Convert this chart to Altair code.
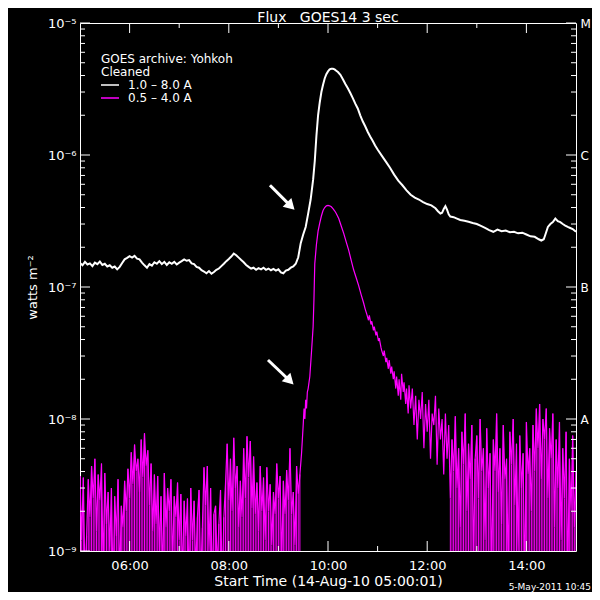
import altair as alt
import pandas as pd

FONT = "DejaVu Sans"
W, H = 496, 528

# ---------------- data ----------------
# GOES 1.0-8.0 A  (units of 1e-7 W m^-2), pre-flare sampled every 3 min from 05:00
w_base_vals = [1.52, 1.46, 1.55, 1.48, 1.51, 1.44, 1.53, 1.49, 1.56, 1.47,
               1.50, 1.43, 1.46, 1.40, 1.43, 1.36, 1.42, 1.52, 1.62, 1.66,
               1.71, 1.67, 1.72, 1.64, 1.62, 1.53, 1.46, 1.40, 1.49, 1.45,
               1.54, 1.50, 1.57, 1.49, 1.55, 1.47, 1.54, 1.50, 1.55, 1.48,
               1.53, 1.57, 1.62, 1.58, 1.60, 1.51, 1.49, 1.42, 1.40, 1.34,
               1.31, 1.27, 1.32, 1.26, 1.30, 1.35, 1.38, 1.44, 1.50, 1.57,
               1.63, 1.70, 1.79, 1.74, 1.67, 1.60, 1.54, 1.47, 1.42, 1.38,
               1.40, 1.35, 1.39, 1.36, 1.40, 1.35, 1.38, 1.34, 1.37, 1.33,
               1.36, 1.29, 1.27, 1.33, 1.35, 1.40, 1.43, 1.50, 1.68]
# flare and decay (minutes since 05:00, units of 1e-7)
w_flare_t = [267, 270, 273, 276, 279, 282, 284, 286, 288, 290, 292, 294, 296, 298,
             300, 302, 304, 306, 308, 310, 312, 315, 318, 321, 324, 327, 330, 333,
             336, 339, 342, 345, 348, 351, 354, 357, 360, 365, 370, 375, 380, 385,
             390, 395, 400, 405, 410, 415, 420, 425, 430, 433, 436, 438, 440, 442,
             444, 446, 448, 452, 456, 460, 465, 470, 475, 480, 485, 490, 495, 500,
             505, 510, 515, 520, 525, 530, 535, 540, 545, 550, 555, 558, 561, 563,
             566, 569, 572, 575, 578, 581, 584, 587, 590, 593, 596, 600]
w_flare_v = [2.15, 2.5, 2.85, 3.6, 4.6, 6.5, 9.0, 14, 20, 25, 30, 34, 38, 41,
             43, 44.5, 45, 45, 44.5, 43.5, 42.5, 40.5, 37.5, 34.5, 32, 29.5, 27, 24.5,
             22.5, 20, 18, 16.5, 15, 13.8, 12.8, 11.8, 11, 9.9, 8.9, 8.0, 7.1, 6.4,
             5.9, 5.4, 5.0, 4.75, 4.6, 4.4, 4.25, 4.15, 3.95, 3.75, 3.6, 3.65, 3.9, 4.1,
             3.85, 3.55, 3.42, 3.38, 3.3, 3.22, 3.18, 3.12, 3.05, 3.0, 2.9, 2.8, 2.7, 2.62,
             2.72, 2.65, 2.68, 2.6, 2.62, 2.55, 2.58, 2.5, 2.42, 2.4, 2.3, 2.25, 2.3, 2.5,
             2.85, 3.0, 3.1, 3.3, 3.15, 3.1, 3.0, 2.92, 2.85, 2.8, 2.75, 2.62]

# GOES 0.5-4.0 A (units of 1e-9 W m^-2), pre-flare every 2 min from 05:00
p_base_vals = [3.7, 1.2, 3.6, 0.6, 1.3, 3.5,
               1.8, 4.4, 2.5, 5.0, 1.4, 3.8, 2.4, 4.6, 0.7, 3.9, 1.6, 2.8, 1.0,
               3.0, 0.5, 2.6, 1.3, 3.5, 0.6, 2.2, 1.5, 3.4, 2.0,
               4.2, 2.5, 5.6, 3.2, 6.4, 4.0, 5.0, 2.8, 7.0, 3.6, 7.8, 4.4, 5.8, 2.2, 4.6, 1.4, 3.8,
               1.6, 3.7, 1.0, 2.6, 0.6, 3.9, 1.5, 3.0, 2.0, 3.5, 0.8, 2.6, 1.8, 3.3, 1.2, 2.7, 0.6, 2.4,
               1.3, 2.5, 0.5, 3.0, 1.2, 2.4, 0.7, 1.8, 2.9, 0.6, 1.5, 4.3, 2.2, 4.4, 1.0, 3.0, 0.5, 1.9,
               2.2, 0.7, 1.6, 2.9, 0.5, 1.8,
               3.2, 6.5, 2.4, 5.0, 2.0, 7.2, 3.0, 4.4, 1.5, 3.4, 1.8, 6.0, 2.5, 7.4, 3.6, 6.8, 2.1, 5.2,
               1.9, 3.3, 1.4, 4.4, 2.0, 3.6,
               1.2, 4.3, 2.0, 3.2, 1.1, 2.8, 1.9, 4.6, 2.5, 3.7, 0.8, 3.4, 1.9, 4.1, 2.4, 6.0, 1.9, 2.8,
               1.1, 4.4, 2.7, 3.8]
p_flare_t = [268, 270, 271, 272, 273, 274, 275, 276, 278, 280, 282, 283, 284, 286, 288, 290,
             292, 294, 296, 298, 300, 302, 304, 306, 308, 310, 313, 316, 319, 322, 325, 328,
             331, 334, 337, 340, 343, 345, 347, 349, 350, 352, 353, 355, 356, 358, 359, 361,
             362, 364, 365, 367, 368, 370, 371, 373, 374, 376, 377, 379, 380, 382, 383, 385,
             386, 388, 389, 391, 392, 394, 395, 397, 398]
p_flare_v = [5.5, 9.0, 12, 10, 14, 12, 16, 17, 21, 32, 50, 80, 150, 210, 265, 305,
             345, 380, 400, 412, 415, 412, 405, 392, 378, 360, 330, 290, 255, 220, 190, 160,
             135, 118, 103, 88, 76, 68, 62, 56, 61, 52, 55, 47, 50, 43, 46, 39,
             41, 35, 33, 30, 33, 27, 29, 24, 28, 22, 25, 20, 23, 17, 21, 15,
             20, 14, 22, 16, 19, 13, 17, 11, 18]
# post-flare every 2 min from 11:40
p_post_vals = [12, 17, 9, 15, 7, 14, 10, 16, 6, 13, 8, 14, 5, 11, 9, 15, 4.5, 12, 7, 10, 3.8, 11,
               5, 9, 2.5, 7, 4, 10.5, 3, 6, 1.5, 8, 4.5, 11, 2, 6.5, 3.5, 9, 0.8, 5, 7.5, 2.5,
               10, 4, 6, 1.2, 8.5, 3, 5.5, 0.6, 7, 4, 11, 2.8, 6, 1.6, 9, 3.5, 5, 0.7, 8, 4.5,
               10, 2.2, 6.5, 1.0, 7.5, 3, 5.5, 0.5, 9.5, 3.8, 6, 2,
               9, 4, 12, 6, 13, 3.5, 10, 7, 12, 2.5, 8.5, 5, 11, 1.5, 7, 3, 9.5, 1.2, 6, 2.5,
               8, 0.6, 5, 2, 7.5, 1.5, 4]
p_fill_from = 448   # minutes: after this the quiet-sun noise reaches the bottom again

# axis ticks / labels
x_major = [6, 8, 10, 12, 14]
x_minor = [7, 9, 11, 13]
y_major = [1e-9, 1e-8, 1e-7, 1e-6, 1e-5]
y_decades = [1e-9, 1e-8, 1e-7, 1e-6]
y_mult = [2, 3, 4, 5, 6, 7, 8, 9]
goes_classes = [1e-8, 1e-7, 1e-6, 1e-5]

# arrows (tail -> head, in hours / flux)
arrow_h = [8.83, 8.79]
arrow_v = [5.9e-7, 2.8e-8]
arrow_h2 = [9.25, 9.23]
arrow_v2 = [4.1e-7, 1.95e-8]

# ---------------- frames ----------------
w_t = [3 * i for i in range(len(w_base_vals))] + w_flare_t
w_v = w_base_vals + w_flare_v
df_w = pd.DataFrame({"hour": [5 + t / 60 for t in w_t], "flux": [v * 1e-7 for v in w_v]})

pb_t = [2 * i for i in range(len(p_base_vals))]
pp_t = [400 + 2 * i for i in range(len(p_post_vals))]
p_t = pb_t + p_flare_t + pp_t
p_v = p_base_vals + p_flare_v + p_post_vals
df_p = pd.DataFrame({"hour": [5 + t / 60 for t in p_t], "flux": [v * 1e-9 for v in p_v]})
fill_t = pb_t + [t for t in pp_t if t >= p_fill_from]
fill_v = p_base_vals + [v for t, v in zip(pp_t, p_post_vals) if t >= p_fill_from]
df_pfill = pd.DataFrame({"hour": [5 + t / 60 for t in fill_t], "flux": [v * 1e-9 for v in fill_v]})

df_ymaj = pd.DataFrame({"v": y_major})
df_ymin = pd.DataFrame({"v": [m * d for d in y_decades for m in y_mult]})
df_xmaj = pd.DataFrame({"h": x_major})
df_xmin = pd.DataFrame({"h": x_minor})
df_cls = pd.DataFrame({"v": goes_classes})
df_arrow = pd.DataFrame({"h": arrow_h, "v": arrow_v, "h2": arrow_h2, "v2": arrow_v2})

xs = alt.Scale(domain=[5, 15], nice=False, zero=False)
ys = alt.Scale(type="log", domain=[1e-9, 1e-5], nice=False)

x_axis = alt.Axis(values=x_major,
                  labelExpr="(datum.value < 10 ? '0' : '') + datum.value + ':00'",
                  ticks=False, domain=False, grid=False,
                  labelColor="white", labelFont=FONT, labelFontSize=13, labelPadding=8,
                  title="Start Time (14-Aug-10 05:00:01)", titleColor="white",
                  titleFont=FONT, titleFontSize=14, titleFontWeight="normal", titlePadding=2)
y_axis = alt.Axis(values=y_major,
                  labelExpr="datum.value > 5e-6 ? '10⁻⁵' : datum.value > 5e-7 ? '10⁻⁶' : "
                            "datum.value > 5e-8 ? '10⁻⁷' : datum.value > 5e-9 ? '10⁻⁸' : '10⁻⁹'",
                  ticks=False, domain=False, grid=False,
                  labelColor="white", labelFont=FONT, labelFontSize=13, labelPadding=4,
                  title="watts m⁻²", titleColor="white", titleFont=FONT,
                  titleFontSize=13, titleFontWeight="normal", titlePadding=8)
r_axis = alt.Axis(orient="right", values=goes_classes,
                  labelExpr="datum.value > 5e-6 ? 'M' : datum.value > 5e-7 ? 'C' : "
                            "datum.value > 5e-8 ? 'B' : 'A'",
                  ticks=False, domain=False, grid=False, title=None,
                  labelColor="white", labelFont=FONT, labelFontSize=12, labelPadding=4)

white = alt.Chart(df_w).mark_line(color="white", strokeWidth=2, clip=True).encode(
    x=alt.X("hour:Q", scale=xs, axis=x_axis),
    y=alt.Y("flux:Q", scale=ys, axis=y_axis))
pink_fill = alt.Chart(df_pfill).mark_rule(color="#ff00ff", strokeWidth=1, clip=True).encode(
    x=alt.X("hour:Q", scale=xs, axis=None),
    y=alt.Y("flux:Q", scale=ys, axis=None), y2=alt.value(H))
pink = alt.Chart(df_p).mark_line(color="#ff00ff", strokeWidth=1.2, clip=True).encode(
    x=alt.X("hour:Q", scale=xs, axis=None),
    y=alt.Y("flux:Q", scale=ys, axis=None))

tick = dict(color="white", strokeWidth=1)
left_maj = alt.Chart(df_ymaj).mark_rule(**tick).encode(
    y=alt.Y("v:Q", scale=ys, axis=None), x=alt.value(0), x2=alt.value(10))
left_min = alt.Chart(df_ymin).mark_rule(**tick).encode(
    y=alt.Y("v:Q", scale=ys, axis=None), x=alt.value(0), x2=alt.value(5))
right_maj = alt.Chart(df_cls).mark_rule(**tick).encode(
    y=alt.Y("v:Q", scale=ys, axis=r_axis), x=alt.value(W - 10), x2=alt.value(W))
right_min = alt.Chart(df_ymin).mark_rule(**tick).encode(
    y=alt.Y("v:Q", scale=ys, axis=None), x=alt.value(W - 5), x2=alt.value(W))
bot_maj = alt.Chart(df_xmaj).mark_rule(**tick).encode(
    x=alt.X("h:Q", scale=xs, axis=None), y=alt.value(H - 10), y2=alt.value(H))
bot_min = alt.Chart(df_xmin).mark_rule(**tick).encode(
    x=alt.X("h:Q", scale=xs, axis=None), y=alt.value(H - 5), y2=alt.value(H))
top_maj = alt.Chart(df_xmaj).mark_rule(**tick).encode(
    x=alt.X("h:Q", scale=xs, axis=None), y=alt.value(0), y2=alt.value(10))
top_min = alt.Chart(df_xmin).mark_rule(**tick).encode(
    x=alt.X("h:Q", scale=xs, axis=None), y=alt.value(0), y2=alt.value(5))

# legend
leg_txt = pd.DataFrame({"label": ["GOES archive: Yohkoh", "Cleaned", "1.0 – 8.0 A", "0.5 – 4.0 A"],
                        "px": [21, 21, 48, 48], "py": [36, 49, 62, 75]})
legend_text = alt.Chart(leg_txt).mark_text(align="left", baseline="middle", color="white",
                                           font=FONT, fontSize=12).encode(
    text="label:N", x=alt.X("px:Q", scale=None), y=alt.Y("py:Q", scale=None))
leg_w = alt.Chart(pd.DataFrame({"k": [0]})).mark_rule(color="white", strokeWidth=1.5).encode(
    x=alt.value(21), x2=alt.value(39), y=alt.value(62))
leg_p = alt.Chart(pd.DataFrame({"k": [0]})).mark_rule(color="#ff00ff", strokeWidth=1.5).encode(
    x=alt.value(21), x2=alt.value(39), y=alt.value(75))

# arrows
arrow_line = alt.Chart(df_arrow).mark_rule(color="white", strokeWidth=3).encode(
    x=alt.X("h:Q", scale=xs, axis=None), x2="h2:Q",
    y=alt.Y("v:Q", scale=ys, axis=None), y2="v2:Q")
arrow_head = alt.Chart(df_arrow).mark_point(shape="triangle-right", angle=45, filled=True,
                                            color="white", size=150, opacity=1).encode(
    x=alt.X("h2:Q", scale=xs, axis=None), y=alt.Y("v2:Q", scale=ys, axis=None))

stamp = alt.Chart(pd.DataFrame({"s": ["5-May-2011 10:45"]})).mark_text(
    align="right", baseline="middle", color="white", font=FONT, fontSize=9).encode(
    text="s:N", x=alt.value(W + 15), y=alt.value(H + 36))

chart = alt.layer(
    white, pink_fill, pink, left_maj, left_min, right_maj, right_min, bot_maj, bot_min,
    top_maj, top_min, legend_text, leg_w, leg_p, arrow_line, arrow_head, stamp
).resolve_axis(x="independent", y="independent").properties(
    width=W, height=H,
    title=alt.TitleParams("Flux\u00a0\u00a0\u00a0GOES14 3 sec", color="white", font=FONT,
                          fontSize=14, fontWeight="normal", anchor="middle", offset=2,
                          frame="group", dy=10),
    autosize=alt.AutoSizeParams(type="none"),
    padding={"left": 72, "top": 15, "right": 16, "bottom": 41},
).configure(background="black").configure_view(stroke="white", strokeWidth=1)

chart.save("out.html", embed_options={"renderer": "svg", "actions": False})
